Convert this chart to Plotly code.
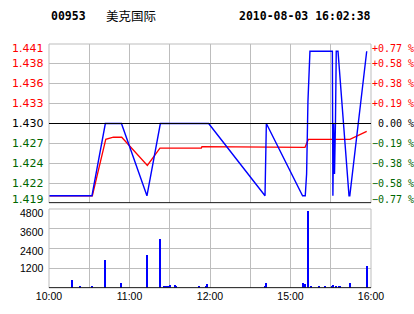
import plotly.graph_objects as go

# ---------------- data ----------------
stock_code = "00953"
stock_name = "美克国际"
stamp = "2010-08-03 16:02:38"

pre_close = 1.430
price_lo, price_hi = 1.419, 1.441

# trading minutes from 10:00 (10:00-12:30, 14:30-16:00 -> 0..240)
price_t = [0, 32, 42, 54, 73, 83, 119, 161, 162, 189, 191, 192, 193, 194.5,
           211.2, 211.6, 212.2, 212.8, 213.5, 214.1, 215.4, 223.6, 224.2, 236.8]
price_v = [1.420, 1.420, 1.430, 1.430, 1.420, 1.430, 1.430, 1.420, 1.430, 1.420,
           1.420, 1.423, 1.433, 1.440, 1.440, 1.420, 1.430, 1.423, 1.430, 1.440,
           1.440, 1.420, 1.420, 1.440]

avg_t = [0, 32.3, 42.3, 48, 54.2, 73.3, 82.7, 113.5, 114, 174.7, 175, 190.8,
         193.3, 224.3, 236.8]
avg_v = [1.420, 1.420, 1.4278, 1.4281, 1.4281, 1.4242, 1.4266, 1.4266, 1.4268,
         1.4268, 1.4267, 1.4267, 1.4278, 1.4278, 1.4289]

vol_t = [17, 23, 32, 42, 54, 73, 83, 86, 87, 89, 90, 94, 95, 112, 117, 118,
         161, 162, 189, 190, 191, 193, 195, 201, 206, 211, 212, 214, 216, 217,
         224, 237]
vol_v = [490, 120, 120, 1700, 300, 2000, 3000, 120, 120, 120, 180, 180, 120,
         120, 120, 240, 120, 300, 300, 120, 240, 4650, 120, 120, 120, 120, 180,
         120, 120, 120, 300, 1340]

price_ticks = [1.441, 1.43825, 1.4355, 1.43275, 1.430, 1.42725, 1.4245, 1.42175, 1.419]
price_labels = ["1.441", "1.438", "1.436", "1.433", "1.430", "1.427", "1.424", "1.422", "1.419"]
pct_labels = ["+0.77 %", "+0.58 %", "+0.38 %", "+0.19 %", "\u00a00.00 %",
              "\u22120.19 %", "\u22120.38 %", "\u22120.58 %", "\u22120.77 %"]
vol_ticks = [4800, 3600, 2400, 1200]
vol_labels = ["4800", "3600", "2400", "1200"]

time_grid = [0, 30, 60, 90, 120, 150, 180, 210, 240]
time_labels = ["10:00", "", "11:00", "", "12:00", "", "15:00", "", "16:00"]

# ---------------- style ----------------
RED = "#ff0000"
GREEN = "#006600"
BLUE = "#0000ff"
GRID = "#bdbdbd"

label_colors = [RED] * 4 + ["#000000"] + [GREEN] * 4
price_shift = [-4, 0, 0, 0, 0, 0, 0, 0, 3.5]
vol_shift = [-4, -3, -2.5, 0]

fig = go.Figure()
fig.add_trace(go.Scatter(x=avg_t, y=avg_v, mode="lines",
                         line=dict(color=RED, width=1.3), xaxis="x2", yaxis="y",
                         hoverinfo="skip"))
fig.add_trace(go.Scatter(x=price_t, y=price_v, mode="lines",
                         line=dict(color=BLUE, width=1.4), xaxis="x2", yaxis="y",
                         hoverinfo="skip"))
fig.add_trace(go.Bar(x=vol_t, y=vol_v, width=0.75, marker=dict(color=BLUE, line=dict(width=0)),
                     xaxis="x", yaxis="y3", hoverinfo="skip"))

main_dom = [0.3484, 1.0]
vol_dom = [0.0, 0.3238]

axis_common = dict(range=[0, 240], tickvals=time_grid, showgrid=True, gridcolor=GRID,
                   gridwidth=1, zeroline=False, showline=False, ticks="")
fig.update_layout(
    width=414, height=314,
    margin=dict(l=49, r=43, t=44, b=26),
    paper_bgcolor="white", plot_bgcolor="white",
    showlegend=False, bargap=0,
    xaxis=dict(**axis_common, anchor="y3", ticktext=time_labels,
               tickfont=dict(family="Liberation Sans", size=10.5, color="#000000")),
    xaxis2=dict(**axis_common, anchor="y", matches="x", showticklabels=False),
    yaxis=dict(domain=main_dom, range=[price_lo, price_hi], tickvals=price_ticks,
               showticklabels=False, showgrid=True, gridcolor=GRID, zeroline=False, ticks=""),
    yaxis3=dict(domain=vol_dom, range=[0, 4800], tickvals=[0] + vol_ticks,
                showticklabels=False, showgrid=True, gridcolor=GRID, zeroline=False, ticks=""),
)

shapes = []
# borders
for dom in (main_dom, vol_dom):
    shapes.append(dict(type="rect", xref="paper", yref="paper", x0=0, x1=1,
                       y0=dom[0], y1=dom[1], line=dict(color=GRID, width=1)))
# black reference lines
shapes.append(dict(type="line", xref="paper", yref="y", x0=0, x1=1, y0=pre_close, y1=pre_close,
                   line=dict(color="#000000", width=1.2)))
shapes.append(dict(type="line", xref="paper", yref="y", x0=0, x1=1, y0=price_lo, y1=price_lo,
                   line=dict(color="#000000", width=1.6)))
shapes.append(dict(type="line", xref="paper", yref="y3", x0=0, x1=1, y0=0, y1=0,
                   line=dict(color="#000000", width=1.4)))
fig.update_layout(shapes=shapes)

ann = []
for v, lab, col, sh in zip(price_ticks, price_labels, label_colors, price_shift):
    ann.append(dict(xref="paper", yref="y", x=0, y=v, text=lab, showarrow=False,
                    xanchor="right", yanchor="middle", xshift=-3, yshift=sh,
                    font=dict(family="DejaVu Sans", size=11, color=col)))
for v, lab, col, sh in zip(price_ticks, pct_labels, label_colors, price_shift):
    ann.append(dict(xref="paper", yref="y", x=1, y=v, text=lab, showarrow=False,
                    xanchor="left", yanchor="middle", xshift=-1, yshift=sh,
                    font=dict(family="DejaVu Sans Mono", size=10, color=col)))
for v, lab, sh in zip(vol_ticks, vol_labels, vol_shift):
    ann.append(dict(xref="paper", yref="y3", x=0, y=v, text=lab, showarrow=False,
                    xanchor="right", yanchor="middle", xshift=-3, yshift=sh,
                    font=dict(family="Liberation Sans", size=10.5, color="#000000")))
hdr_y = 1.1148
ann.append(dict(xref="paper", yref="paper", x=0.0, y=hdr_y, text=stock_code, showarrow=False,
                xanchor="left", yanchor="middle", xshift=0,
                font=dict(family="DejaVu Sans Mono", size=11.5, color="#000000", weight="bold")))
ann.append(dict(xref="paper", yref="paper", x=0.17, y=hdr_y, text=stock_name, showarrow=False,
                xanchor="left", yanchor="middle",
                font=dict(family="Noto Sans CJK SC", size=12.5, color="#000000")))
ann.append(dict(xref="paper", yref="paper", x=0.584, y=hdr_y, text=stamp, showarrow=False,
                xanchor="left", yanchor="middle",
                font=dict(family="DejaVu Sans Mono", size=11.5, color="#000000", weight="bold")))
fig.update_layout(annotations=ann)

fig.write_html("out.html")
